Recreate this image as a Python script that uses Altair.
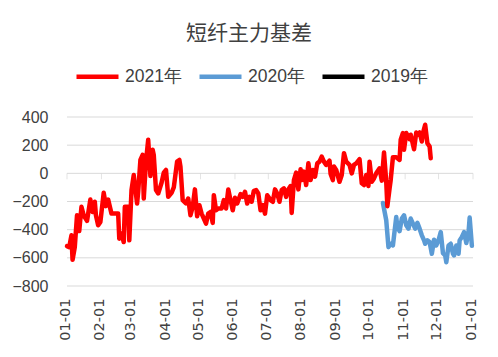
import altair as alt
import pandas as pd

# ---- data ----
dates_2021 = [
    "01-01","01-03","01-05","01-06","01-08","01-10","01-12","01-14","01-16","01-19",
    "01-22","01-24","01-26","01-27","01-29","01-31","02-03","02-05","02-07","02-10",
    "02-16","02-17","02-19","02-21","02-22","02-25","02-26","02-28","03-02","03-05",
    "03-06","03-08","03-10","03-11","03-13","03-15","03-17","03-19","03-20","03-22",
    "03-24","03-27","03-29","03-31","04-02","04-05","04-07","04-10","04-12","04-13",
    "04-15","04-18","04-20","04-22","04-24","04-26","04-28","04-30","05-02","05-04",
    "05-06","05-08","05-10","05-12","05-13","05-15","05-17","05-20","05-22","05-24",
    "05-26","05-28","05-30","06-01","06-03","06-06","06-08","06-10","06-12","06-14",
    "06-16","06-18","06-20","06-22","06-24","06-26","06-28","06-30","07-03","07-05",
    "07-07","07-09","07-11","07-13","07-15","07-17","07-19","07-21","07-22","07-24",
    "07-26","07-28","07-30","07-31","08-02","08-04","08-06","08-08","08-10","08-12",
    "08-14","08-16","08-18","08-20","08-22","08-25","08-26","08-28","08-29","08-31",
    "09-03","09-05","09-07","09-09","09-12","09-14","09-16","09-18","09-21","09-23",
    "09-25","09-27","09-29","09-30","10-02","10-04","10-06","10-09","10-11","10-13",
    "10-15","10-16","10-18","10-19","10-21","10-24","10-27","10-28","10-30","10-31",
    "11-02","11-05","11-06","11-09","11-11","11-12","11-14","11-16","11-17","11-19",
    "11-21","11-23","11-24",
]
values_2021 = [
    -517,-524,-440,-614,-524,-298,-410,-238,-298,-338,
    -186,-274,-202,-298,-369,-345,-138,-233,-186,-286,
    -286,-464,-428,-488,-238,-238,-476,-119,-12,-214,
    -131,95,131,-179,83,238,-19,167,131,-119,
    -143,-67,5,24,-167,-138,-100,83,95,48,
    -190,-214,-179,-298,-238,-114,-305,-226,-286,-321,
    -357,-286,-274,-352,-155,-262,-250,-250,-190,-250,
    -114,-190,-262,-174,-214,-148,-167,-131,-214,-167,
    -202,-124,-119,-143,-262,-226,-286,-155,-190,-202,
    -114,-143,-202,-119,-107,-167,-114,-90,-281,-48,
    5,-114,29,-48,12,-83,71,-48,24,-24,
    71,83,119,83,60,90,-5,-48,48,24,
    -60,-12,143,83,60,0,60,71,100,-71,
    -83,-12,-90,83,-60,-36,0,36,-52,148,
    -60,-233,-107,-48,114,114,95,238,286,167,
    286,243,274,171,290,274,290,226,286,345,
    214,190,107,
]

dates_2020 = [
    "10-12","10-15","10-17","10-19","10-21","10-24","10-25","10-27","10-29","10-31",
    "11-02","11-04","11-06","11-08","11-10","11-12","11-14","11-16","11-18","11-19",
    "11-21","11-23","11-25","11-27","11-29","12-01","12-03","12-05","12-07","12-08",
    "12-10","12-12","12-14","12-15","12-17","12-19","12-20","12-22","12-24","12-26",
    "12-28","12-29","12-31",
]
values_2020 = [
    -210,-333,-524,-500,-512,-310,-381,-410,-321,-298,
    -369,-393,-321,-357,-393,-352,-393,-440,-476,-500,
    -476,-488,-571,-471,-512,-476,-417,-567,-583,-631,
    -512,-500,-571,-583,-512,-571,-476,-452,-417,-495,
    -417,-314,-515,
]

series_names = ["2021年", "2020年", "2019年"]
series_colors = ["#FF0000", "#5B9BD5", "#000000"]

month_ticks = ["2021-01-01","2021-02-01","2021-03-01","2021-04-01","2021-05-01",
               "2021-06-01","2021-07-01","2021-08-01","2021-09-01","2021-10-01",
               "2021-11-01","2021-12-01","2022-01-01"]
y_ticks = [-800, -600, -400, -200, 0, 200, 400]

# ---- build tables ----
rows = []
for d, v in zip(dates_2020, values_2020):
    rows.append({"date": "2021-" + d, "value": v, "series": "2020年"})
for d, v in zip(dates_2021, values_2021):
    rows.append({"date": "2021-" + d, "value": v, "series": "2021年"})
df = pd.DataFrame(rows)
ticks_df = pd.DataFrame({"date": month_ticks, "value": [0] * len(month_ticks)})
grid_df = pd.DataFrame({"value": y_ticks})

x_scale = alt.Scale(type="utc",
                    domain=[alt.DateTime(year=2021, month=1, date=1, utc=True),
                            alt.DateTime(year=2022, month=1, date=1, utc=True)])
y_scale = alt.Scale(domain=[-800, 400], nice=False, zero=False)

tick_values = [alt.DateTime(year=int(s[:4]), month=int(s[5:7]), date=1, utc=True)
               for s in month_ticks]

x_axis = alt.Axis(values=tick_values, labelExpr="utcFormat(datum.value, '%m-%d')",
                  title=None, labelAngle=270, labelFont="DejaVu Sans",
                  labelFontSize=14.5, labelColor="#404040", ticks=False,
                  domain=False, grid=False, labelPadding=12, labelOverlap=False,
                  labelOffset=-2)
y_axis = alt.Axis(values=y_ticks, title=None,
                  labelFont="Liberation Sans", labelFontSize=16,
                  labelColor="#404040", ticks=False, domain=False,
                  grid=False, labelPadding=19, labelOverlap=False)

grid = alt.Chart(grid_df).mark_rule(color="#D9D9D9", strokeWidth=1).encode(
    y=alt.Y("value:Q", scale=y_scale, axis=y_axis),
)

tick_marks = alt.Chart(ticks_df).mark_tick(orient="vertical", size=6, yOffset=3,
                                           color="#D9D9D9", thickness=1).encode(
    x=alt.X("date:T", scale=x_scale, axis=x_axis),
    y=alt.Y("value:Q", scale=y_scale, axis=y_axis),
)

lines = alt.Chart(df).mark_line(strokeWidth=4.5, strokeJoin="round", strokeCap="round").encode(
    x=alt.X("date:T", scale=x_scale, axis=x_axis),
    y=alt.Y("value:Q", scale=y_scale, axis=y_axis),
    color=alt.Color("series:N",
                    scale=alt.Scale(domain=series_names, range=series_colors),
                    legend=alt.Legend(title=None, orient="none", direction="horizontal",
                                      legendX=7, legendY=-64,
                                      symbolType="stroke", symbolSize=1764,
                                      symbolStrokeWidth=4.5, labelFontSize=17.5,
                                      labelFont="Liberation Sans", labelColor="#404040",
                                      columnPadding=8, labelOffset=4)),
    detail="series:N",
)

chart = alt.layer(grid, tick_marks, lines).properties(
    width=406, height=169,
    title=alt.TitleParams("短纤主力基差", font="Noto Sans CJK SC", fontSize=21,
                          fontWeight="normal", color="#404040", anchor="middle",
                          dx=-21, offset=9),
    autosize=alt.AutoSizeParams(type="none"),
    padding={"left": 59, "top": 109, "right": 17, "bottom": 63},
    background="white",
).configure_view(stroke="transparent", strokeWidth=0)

chart.save("out.html", embed_options={"renderer": "svg", "actions": False})
